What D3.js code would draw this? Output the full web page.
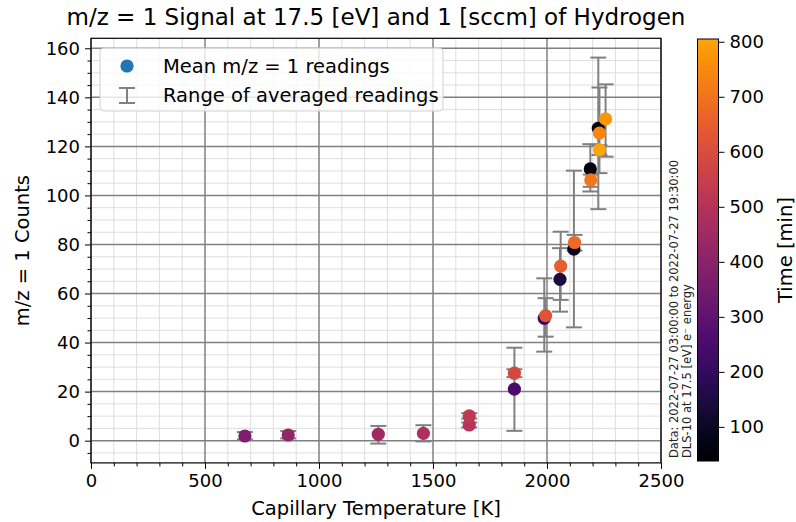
<!DOCTYPE html>
<html>
<head>
<meta charset="utf-8">
<script src="https://cdn.jsdelivr.net/npm/d3@7"></script>
<style>
  html, body { margin: 0; padding: 0; background: #fff; }
  svg { display: block; font-family: "DejaVu Sans", sans-serif; }
</style>
</head>
<body>
<svg id="chart" width="796" height="522"></svg>
<script>
// Averaged m/z = 1 readings, listed in time order
const temperatureK = [2225, 2190, 2118, 2057, 1988, 1857, 675, 865, 1260, 1458,
                      1659, 1659, 1857, 1994, 2060, 2121, 2192, 2230, 2257, 2230];
const meanCounts   = [127.4, 110.8, 78.1, 65.8, 49.9, 21.0, 1.9, 2.3, 2.6, 3.0,
                      6.4, 10.1, 27.5, 51.0, 71.2, 80.8, 106.3, 125.4, 131.2, 118.6];
const rangeLow     = [94.4, 101.6, 46.2, 52.6, 36.3, 4.0, 0.5, 0.9, -1.2, -0.3,
                      5.4, 9.0, 25.9, 42.4, 57.4, 77.5, 103.5, 109.1, 115.8, 116.5];
const rangeHigh    = [156.2, 120.9, 110.1, 78.5, 66.2, 37.9, 3.5, 3.9, 6.0, 6.3,
                      7.4, 11.2, 29.1, 58.1, 85.2, 83.9, 108.5, 144.0, 145.3, 120.5];
const timeMin      = [38, 62, 95, 140, 195, 255, 375, 415, 450, 480,
                      505, 525, 585, 620, 650, 675, 705, 740, 775, 805];

const xTicks = [0, 500, 1000, 1500, 2000, 2500];
const yTicks = [0, 20, 40, 60, 80, 100, 120, 140, 160];
const cbarTicks = [100, 200, 300, 400, 500, 600, 700, 800];

const titleText = "m/z = 1 Signal at 17.5 [eV] and 1 [sccm] of Hydrogen";
const xLabel = "Capillary Temperature [K]";
const yLabel = "m/z = 1 Counts";
const cbarLabel = "Time [min]";
const legendLabels = ["Mean m/z = 1 readings", "Range of averaged readings"];
const noteLines = ["Data: 2022-07-27 03:00:00 to 2022-07-27 19:30:00",
                   "DLS-10 at 17.5 [eV] e\u207B energy"];

const svg = d3.select("#chart");
const plot = { left: 91, right: 661, top: 38.3, bottom: 462.9 };
const cbar = { left: 697.5, right: 718.5, top: 39, bottom: 461 };

// y limits: data range (range bars included) padded by 5%
const yLo = d3.min(rangeLow), yHi = d3.max(rangeHigh), pad = 0.05 * (yHi - yLo);
const x = d3.scaleLinear().domain([0, 2500]).range([plot.left, plot.right]);
const y = d3.scaleLinear().domain([yLo - pad, yHi + pad]).range([plot.bottom, plot.top]);

const tExtent = d3.extent(timeMin);
const cmap = t => d3.interpolateInferno(0.8 * t);
const color = d3.scaleSequential(cmap).domain(tExtent);
const cy = d3.scaleLinear().domain(tExtent).range([cbar.bottom, cbar.top]);

const grey = "#808080";
const tickFs = 18;
const labelFs = 19.5;

// grid: minor then major
const g = svg.append("g");
const xMinor = d3.range(0, 2501, 100).filter(v => v % 500 !== 0);
const yMinor = d3.range(-5, 165, 5).filter(v => v % 20 !== 0 && v >= y.domain()[0] && v <= y.domain()[1]);
g.selectAll(".gxm").data(xMinor).join("line")
  .attr("x1", d => x(d)).attr("x2", d => x(d)).attr("y1", plot.top).attr("y2", plot.bottom)
  .attr("stroke", "#dedede").attr("stroke-width", 1);
g.selectAll(".gym").data(yMinor).join("line")
  .attr("x1", plot.left).attr("x2", plot.right).attr("y1", d => y(d)).attr("y2", d => y(d))
  .attr("stroke", "#dedede").attr("stroke-width", 1);
g.selectAll(".gx").data(xTicks).join("line")
  .attr("x1", d => x(d)).attr("x2", d => x(d)).attr("y1", plot.top).attr("y2", plot.bottom)
  .attr("stroke", grey).attr("stroke-width", 1.5);
g.selectAll(".gy").data(yTicks).join("line")
  .attr("x1", plot.left).attr("x2", plot.right).attr("y1", d => y(d)).attr("y2", d => y(d))
  .attr("stroke", grey).attr("stroke-width", 1.5);

// axes
svg.append("g").attr("transform", `translate(0,${plot.bottom})`)
  .call(d3.axisBottom(x).tickValues(xTicks).tickFormat(d3.format("d")).tickSize(6).tickPadding(5));
svg.append("g").attr("transform", `translate(0,${plot.bottom})`)
  .call(d3.axisBottom(x).tickValues(xMinor).tickFormat("").tickSize(3.5))
  .call(s => s.select(".domain").remove());
svg.append("g").attr("transform", `translate(${plot.left},0)`)
  .call(d3.axisLeft(y).tickValues(yTicks).tickFormat(d3.format("d")).tickSize(6).tickPadding(5));
svg.append("g").attr("transform", `translate(${plot.left},0)`)
  .call(d3.axisLeft(y).tickValues(yMinor).tickFormat("").tickSize(3.5))
  .call(s => s.select(".domain").remove());
svg.selectAll(".tick text").attr("font-size", tickFs).attr("fill", "#000").attr("font-family", "DejaVu Sans");
svg.selectAll(".tick line").attr("stroke", "#000").attr("stroke-width", 1);
svg.selectAll(".domain").remove();

// frame
svg.append("rect").attr("x", plot.left).attr("y", plot.top)
  .attr("width", plot.right - plot.left).attr("height", plot.bottom - plot.top)
  .attr("fill", "none").attr("stroke", "#000").attr("stroke-width", 1.2);

// range bars
const idx = d3.range(temperatureK.length);
const capHalf = 8;
const bars = svg.append("g").attr("stroke", grey).attr("stroke-width", 2);
bars.selectAll(".v").data(idx).join("line")
  .attr("x1", i => x(temperatureK[i])).attr("x2", i => x(temperatureK[i]))
  .attr("y1", i => y(rangeLow[i])).attr("y2", i => y(rangeHigh[i]));
bars.selectAll(".lo").data(idx).join("line")
  .attr("x1", i => x(temperatureK[i]) - capHalf).attr("x2", i => x(temperatureK[i]) + capHalf)
  .attr("y1", i => y(rangeLow[i])).attr("y2", i => y(rangeLow[i]));
bars.selectAll(".hi").data(idx).join("line")
  .attr("x1", i => x(temperatureK[i]) - capHalf).attr("x2", i => x(temperatureK[i]) + capHalf)
  .attr("y1", i => y(rangeHigh[i])).attr("y2", i => y(rangeHigh[i]));

// mean points coloured by time
svg.append("g").selectAll("circle").data(idx).join("circle")
  .attr("cx", i => x(temperatureK[i])).attr("cy", i => y(meanCounts[i]))
  .attr("r", 6.6).attr("fill", i => color(timeMin[i]));

// legend
const lg = svg.append("g");
lg.append("rect").attr("x", 100).attr("y", 48).attr("width", 343).attr("height", 63)
  .attr("rx", 4).attr("fill", "#fff").attr("fill-opacity", 0.8)
  .attr("stroke", "#d0d0d0").attr("stroke-width", 1);
lg.append("circle").attr("cx", 127).attr("cy", 66).attr("r", 6.6).attr("fill", "#1f77b4");
lg.append("line").attr("x1", 127).attr("x2", 127).attr("y1", 88).attr("y2", 103).attr("stroke", grey).attr("stroke-width", 2);
lg.append("line").attr("x1", 119).attr("x2", 135).attr("y1", 88).attr("y2", 88).attr("stroke", grey).attr("stroke-width", 2);
lg.append("line").attr("x1", 119).attr("x2", 135).attr("y1", 103).attr("y2", 103).attr("stroke", grey).attr("stroke-width", 2);
lg.selectAll("text").data(legendLabels).join("text")
  .attr("x", 163).attr("y", (d, i) => 72.5 + i * 29).attr("font-size", labelFs).text(d => d);

// titles
svg.append("text").attr("x", (plot.left + plot.right) / 2).attr("y", 25)
  .attr("text-anchor", "middle").attr("font-size", 23).text(titleText);
svg.append("text").attr("x", (plot.left + plot.right) / 2).attr("y", 515)
  .attr("text-anchor", "middle").attr("font-size", labelFs).text(xLabel);
svg.append("text").attr("transform", `translate(29,${(plot.top + plot.bottom) / 2}) rotate(-90)`)
  .attr("text-anchor", "middle").attr("font-size", labelFs).text(yLabel);

// side note
svg.selectAll(".note").data(noteLines).join("text")
  .attr("transform", (d, i) => `translate(${677.5 + i * 13.5},458) rotate(-90)`)
  .attr("font-size", 11.5).attr("fill", "#222").text(d => d);

// colorbar
const defs = svg.append("defs");
const grad = defs.append("linearGradient").attr("id", "cbgrad")
  .attr("x1", 0).attr("x2", 0).attr("y1", 1).attr("y2", 0);
d3.range(0, 1.0001, 0.05).forEach(t => {
  grad.append("stop").attr("offset", t).attr("stop-color", cmap(t));
});
svg.append("rect").attr("x", cbar.left).attr("y", cbar.top)
  .attr("width", cbar.right - cbar.left).attr("height", cbar.bottom - cbar.top)
  .attr("fill", "url(#cbgrad)").attr("stroke", "#000").attr("stroke-width", 1);
const cAxis = svg.append("g").attr("transform", `translate(${cbar.right},0)`)
  .call(d3.axisRight(cy).tickValues(cbarTicks).tickFormat(d3.format("d")).tickSize(6).tickPadding(5));
cAxis.select(".domain").remove();
cAxis.selectAll(".tick text").attr("font-size", tickFs).attr("fill", "#000").attr("font-family", "DejaVu Sans");
cAxis.selectAll(".tick line").attr("stroke", "#000");
svg.append("text").attr("transform", `translate(792,${(cbar.top + cbar.bottom) / 2}) rotate(-90)`)
  .attr("text-anchor", "middle").attr("font-size", labelFs).text(cbarLabel);
</script>
</body>
</html>
